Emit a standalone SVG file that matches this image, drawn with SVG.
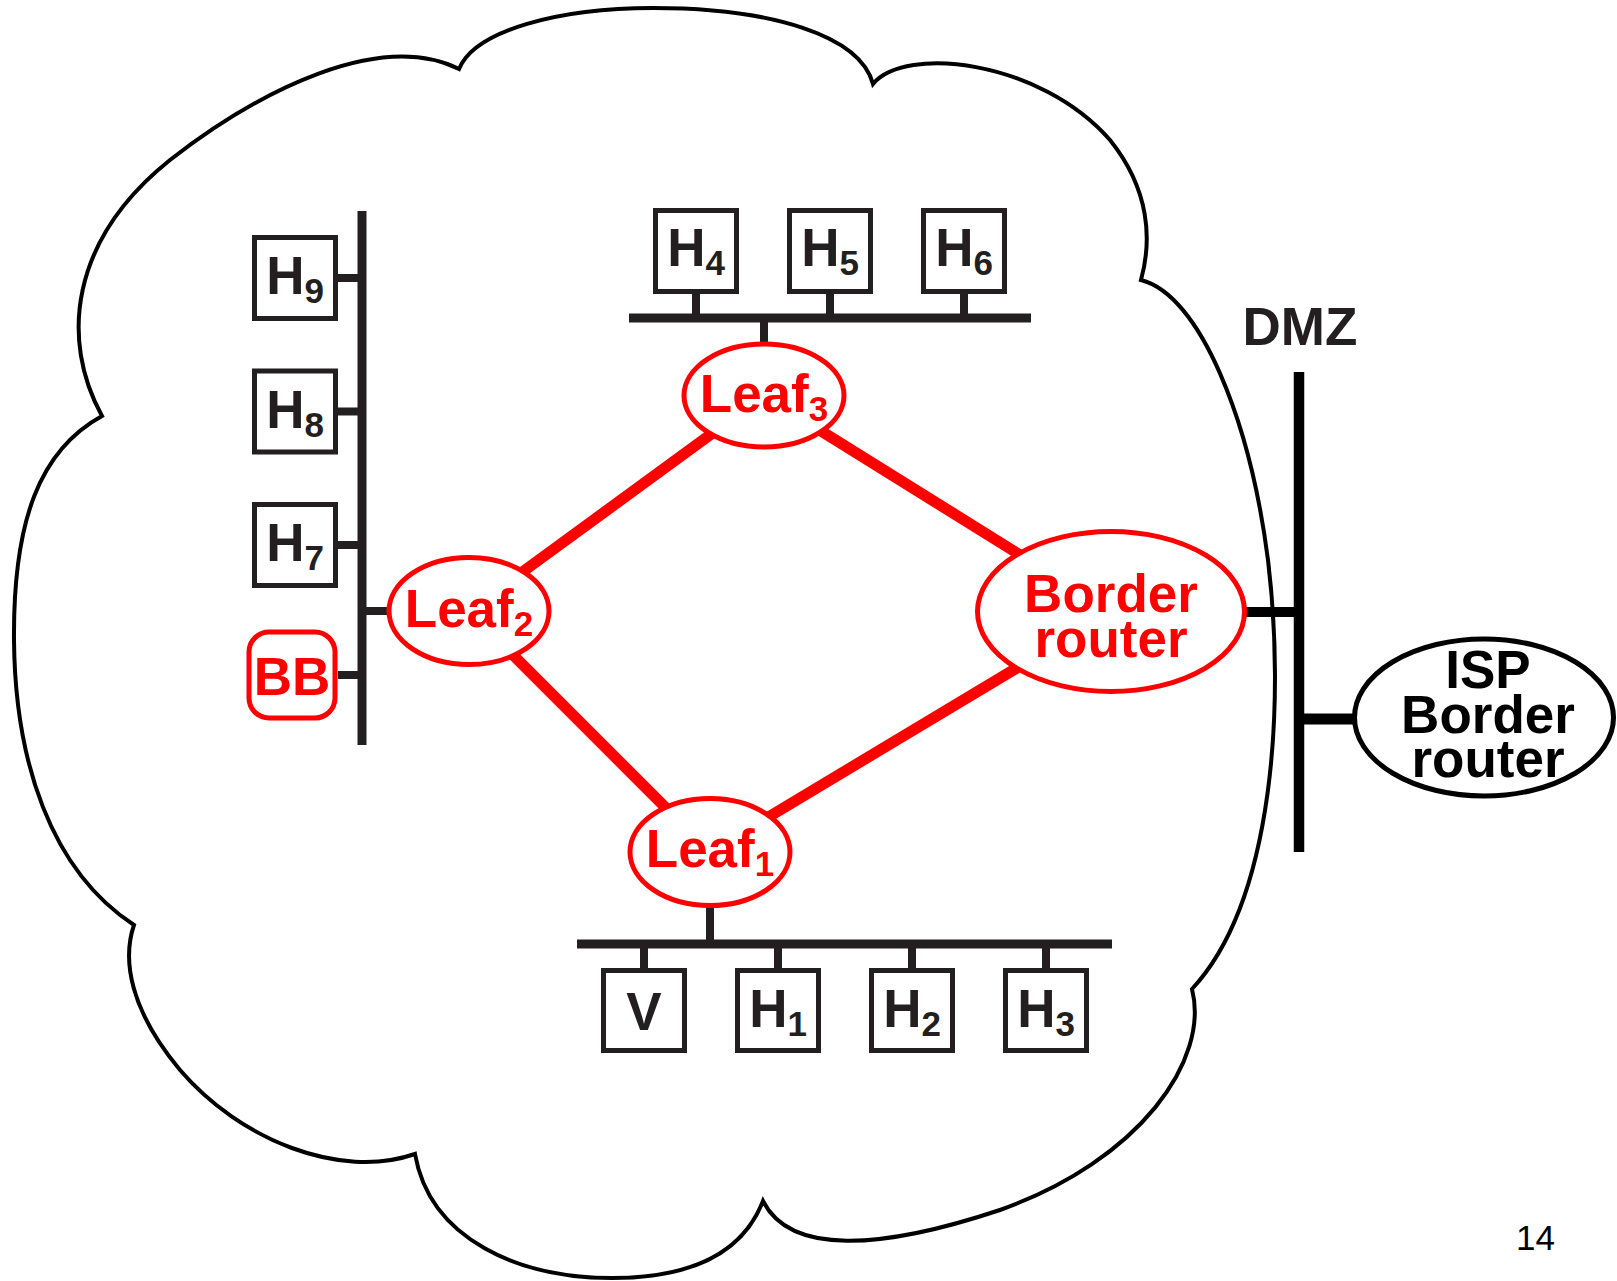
<svg xmlns="http://www.w3.org/2000/svg" width="1617" height="1281" viewBox="0 0 1617 1281">
<style>
.cloud{fill:none;stroke:#000;stroke-width:4}
.box{fill:#fff;stroke:#231f20;stroke-width:5}
.bus{stroke:#231f20;stroke-width:9;fill:none}
.stub{stroke:#231f20;stroke-width:8;fill:none}
.dmz{stroke:#000;fill:none}
.link{stroke:#ff0000;stroke-width:11;fill:none}
.rnode{fill:#fff;stroke:#ff0000;stroke-width:5}
.bnode{fill:#fff;stroke:#000;stroke-width:5}
text{font-family:"Liberation Sans",Arial,Helvetica,sans-serif;font-weight:bold;font-size:53px;text-anchor:middle}
.k{fill:#231f20}
.b{fill:#000}
.r{fill:#ff0000}
.sub{font-size:35px}
.pg{font-weight:normal;font-size:35px;text-anchor:start;fill:#000}
</style>
<rect width="1617" height="1281" fill="#fff"/>
<path id="cloud" class="cloud" d="M459,69 C475,30 560,8 653,8 C770,8 860,35 873,84 C905,45 1040,60 1110,140 C1150,190 1152,240 1141,280 C1200,295 1250,420 1268,560 C1285,700 1275,900 1192,989 C1210,1060 1140,1160 1000,1210 C880,1250 790,1255 763,1201 C740,1260 680,1278 612,1278 C520,1278 430,1240 415,1154 C340,1180 240,1140 180,1070 C130,1010 122,960 134,925 C50,870 15,760 14,640 C13,520 40,450 102,416 C60,340 70,240 170,160 C260,90 380,30 459,69 Z"/>
<g id="connectors">
  <line class="link" x1="764" y1="395.5" x2="469" y2="611"/>
  <line class="link" x1="764" y1="395.5" x2="1111" y2="611.5"/>
  <line class="link" x1="469" y1="611" x2="710" y2="852"/>
  <line class="link" x1="710" y1="852" x2="1111" y2="611.5"/>
  <line class="bus" x1="362" y1="211" x2="362" y2="745"/>
  <line class="bus" x1="629" y1="318" x2="1031" y2="318"/>
  <line class="bus" x1="577" y1="944" x2="1112" y2="944"/>
  <line class="stub" x1="338" y1="278" x2="362" y2="278"/>
  <line class="stub" x1="338" y1="411.5" x2="362" y2="411.5"/>
  <line class="stub" x1="338" y1="545" x2="362" y2="545"/>
  <line class="stub" x1="338" y1="675" x2="362" y2="675"/>
  <line class="stub" x1="362" y1="611" x2="388" y2="611"/>
  <line class="stub" x1="696" y1="294" x2="696" y2="318"/>
  <line class="stub" x1="830" y1="294" x2="830" y2="318"/>
  <line class="stub" x1="964" y1="294" x2="964" y2="318"/>
  <line class="stub" x1="764" y1="318" x2="764" y2="344"/>
  <line class="stub" x1="710" y1="905" x2="710" y2="944"/>
  <line class="stub" x1="644" y1="944" x2="644" y2="969"/>
  <line class="stub" x1="778" y1="944" x2="778" y2="969"/>
  <line class="stub" x1="912" y1="944" x2="912" y2="969"/>
  <line class="stub" x1="1046" y1="944" x2="1046" y2="969"/>
  <line class="dmz" stroke-width="10.5" x1="1299" y1="372" x2="1299" y2="852"/>
  <line class="dmz" stroke-width="10" x1="1244" y1="612" x2="1299" y2="612"/>
  <line class="dmz" stroke-width="11" x1="1299" y1="719" x2="1354" y2="719"/>
</g>
<g id="H9"><rect class="box" x="254.5" y="237.5" width="81" height="81"/><text class="k" x="295" y="294">H<tspan class="sub" dy="9">9</tspan></text></g>
<g id="H8"><rect class="box" x="254.5" y="371" width="81" height="81"/><text class="k" x="295" y="427.5">H<tspan class="sub" dy="9">8</tspan></text></g>
<g id="H7"><rect class="box" x="254.5" y="504.5" width="81" height="81"/><text class="k" x="295" y="561">H<tspan class="sub" dy="9">7</tspan></text></g>
<g id="BB"><rect x="249" y="632" width="86" height="86" rx="20" fill="#fff" stroke="#ff0000" stroke-width="5"/><text class="r" x="292" y="695">BB</text></g>
<g id="H4"><rect class="box" x="655.5" y="210.5" width="81" height="81"/><text class="k" x="696" y="266">H<tspan class="sub" dy="9">4</tspan></text></g>
<g id="H5"><rect class="box" x="789.5" y="210.5" width="81" height="81"/><text class="k" x="830" y="266">H<tspan class="sub" dy="9">5</tspan></text></g>
<g id="H6"><rect class="box" x="923.5" y="210.5" width="81" height="81"/><text class="k" x="964" y="266">H<tspan class="sub" dy="9">6</tspan></text></g>
<g id="V"><rect class="box" x="603.5" y="970.5" width="81" height="80"/><text class="k" x="644" y="1030">V</text></g>
<g id="H1"><rect class="box" x="737.5" y="970.5" width="81" height="80"/><text class="k" x="778" y="1027">H<tspan class="sub" dy="9">1</tspan></text></g>
<g id="H2"><rect class="box" x="871.5" y="970.5" width="81" height="80"/><text class="k" x="912" y="1027">H<tspan class="sub" dy="9">2</tspan></text></g>
<g id="H3"><rect class="box" x="1005.5" y="970.5" width="81" height="80"/><text class="k" x="1046" y="1027">H<tspan class="sub" dy="9">3</tspan></text></g>
<g id="Leaf3"><ellipse class="rnode" cx="764" cy="395.5" rx="80" ry="51.5"/><text class="r" x="764" y="412">Leaf<tspan class="sub" dy="9">3</tspan></text></g>
<g id="Leaf2"><ellipse class="rnode" cx="469" cy="611" rx="80" ry="53.5"/><text class="r" x="469" y="627">Leaf<tspan class="sub" dy="9">2</tspan></text></g>
<g id="Leaf1"><ellipse class="rnode" cx="710" cy="852" rx="80" ry="53.5"/><text class="r" x="710" y="867">Leaf<tspan class="sub" dy="9">1</tspan></text></g>
<g id="BorderRouter"><ellipse class="rnode" cx="1111" cy="611.5" rx="133.5" ry="80"/><text class="r" x="1111" y="612">Border</text><text class="r" x="1111" y="657">router</text></g>
<g id="DMZ"><text class="k" x="1300" y="345">DMZ</text></g>
<g id="ISPBorderRouter"><ellipse class="bnode" cx="1484" cy="717.5" rx="129.5" ry="78.5"/><text class="b" x="1488" y="688">ISP</text><text class="b" x="1488" y="733">Border</text><text class="b" x="1488" y="777">router</text></g>
<text class="pg" x="1516" y="1250">14</text>
</svg>
